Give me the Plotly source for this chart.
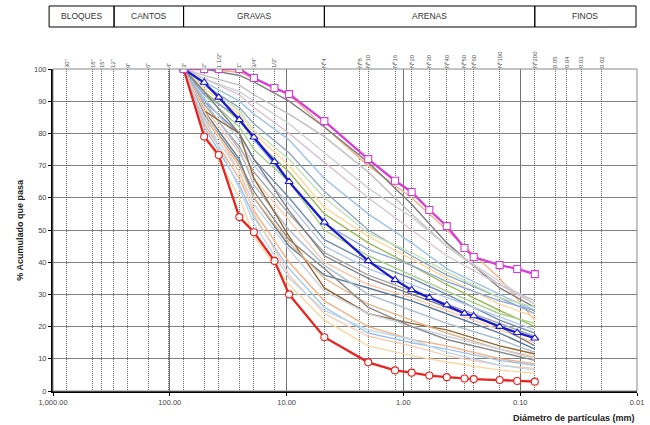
import math
import plotly.graph_objects as go

# ---------------- data ----------------
# sieve sizes (mm) used by the three highlighted curves
main_sizes = [76.2, 50.8, 38.1, 25.4, 19.05, 12.7, 9.525, 4.75, 2.0, 1.18, 0.85, 0.6,
              0.425, 0.3, 0.25, 0.15, 0.106, 0.075]
lower_limit = [100, 79.0, 73.3, 54.0, 49.3, 40.4, 30.0, 16.7, 8.9, 6.4, 5.7, 4.8,
               4.3, 3.9, 3.7, 3.4, 3.1, 2.9]
average_curve = [100, 95.8, 91.2, 84.2, 78.8, 71.2, 65.0, 52.4, 40.4, 34.5, 31.4, 29.0,
                 26.7, 24.1, 23.3, 20.0, 18.1, 16.4]
upper_limit = [100, 100, 100, 100, 97.2, 94.1, 92.2, 83.8, 72.0, 65.3, 61.8, 56.2,
               51.2, 44.4, 41.6, 39.1, 37.9, 36.3]

# sieve sizes (mm) for the individual sample curves
sample_sizes = [76.2, 50.8, 25.4, 19.05, 9.525, 4.75, 2.0, 0.85, 0.425, 0.15, 0.075]
sample_values = [
    [100, 100, 99, 97, 92, 82, 70, 60, 50, 35, 22],
    [100, 100, 98, 96, 90, 82, 71, 58, 46, 32, 26],
    [100, 98, 95, 92, 86, 79, 68, 55, 45, 33, 28],
    [100, 97, 92, 88, 80, 71, 60, 50, 42, 33, 27],
    [100, 96, 90, 86, 78, 66, 55, 46, 38, 30, 25],
    [100, 95, 88, 83, 74, 62, 50, 42, 36, 29, 24],
    [100, 94, 86, 80, 70, 57, 48, 41, 35, 27, 23],
    [100, 93, 84, 78, 68, 55, 46, 39, 33, 25, 20],
    [100, 92, 82, 75, 65, 50, 42, 36, 31, 24, 21],
    [100, 90, 80, 72, 60, 47, 40, 35, 30, 22, 18],
    [100, 91, 78, 70, 58, 45, 38, 33, 29, 23, 19],
    [100, 89, 76, 68, 55, 43, 36, 31, 27, 21, 17],
    [100, 88, 74, 66, 53, 40, 33, 29, 25, 19, 15],
    [100, 87, 72, 60, 45, 36, 32, 28, 24, 18, 13],
    [100, 90, 75, 64, 50, 39, 30, 25, 21, 16, 12],
    [100, 87, 80, 66, 48, 32, 24, 21, 19, 14, 11.5],
    [100, 85, 70, 60, 46, 35, 27, 22, 18, 13, 10.5],
    [100, 84, 68, 58, 44, 31, 24, 20, 17, 13, 10],
    [100, 86, 71, 62, 47, 38, 26, 20, 16, 12, 9.5],
    [100, 83, 66, 56, 40, 28, 20, 16, 14, 10, 8.5],
    [100, 82, 64, 54, 38, 26, 18, 15, 13, 9.5, 8],
    [100, 87, 68, 55, 36, 24, 17, 14, 11, 8, 7],
    [100, 85, 63, 52, 35, 25, 19, 16, 12, 8, 6.5],
    [100, 80, 60, 48, 33, 22, 14, 11, 9, 6.5, 5.5],
    [100, 92, 85, 78, 65, 52, 44, 39, 34, 28, 25],
    [100, 93, 80, 72, 56, 42, 35, 30, 26, 20, 14],
    [100, 95, 87, 81, 72, 60, 49, 43, 37, 29, 26],
    [100, 97, 93, 90, 83, 74, 63, 54, 45, 34, 27],
]
sample_colors = [
    "#F4B183", "#7F7F7F", "#BFBFBF", "#D9C3D0", "#9DC3E6", "#8EA9C1", "#FFD699",
    "#9BBB59", "#A9D08E", "#6F8FAF", "#B4C7E7", "#A6A6A6", "#F8CBAD", "#5B7B9A",
    "#A9BCD0", "#996633", "#E6B88A", "#C5D3E2", "#8C8C8C", "#F4B183", "#9DC3E6",
    "#F8CBAD", "#BDD7EE", "#FAD7A0", "#8FAADC", "#808080", "#C5E0B4", "#D0D0D0",
]

# top sieve labels
sieve_sizes = [762, 457.2, 381, 304.8, 228.6, 152.4, 101.6, 76.2, 50.8, 38.1, 25.4, 19.05,
               12.7, 4.75, 2.36, 2.0, 1.18, 0.85, 0.6, 0.425, 0.3, 0.25, 0.15, 0.075,
               0.05, 0.04, 0.03, 0.02]
sieve_labels = ['30"', '18"', '15"', '12"', '9"', '6"', '4"', '3"', '2"', '1 1/2"', '1"', '3/4"',
                '1/2"', 'Nº4', 'Nº8', 'Nº10', 'Nº16', 'Nº20', 'Nº30', 'Nº40', 'Nº50', 'Nº60',
                'Nº100', 'Nº200', '0.05', '0.04', '0.03', '0.02']

decade_vals = [1000, 100, 10, 1, 0.1, 0.01]
decade_labels = ["1,000.00", "100.00", "10.00", "1.00", "0.10", "0.01"]
y_ticks = list(range(0, 101, 10))

# soil classification header
class_names = ["BLOQUES", "CANTOS", "GRAVAS", "ARENAS", "FINOS"]
class_bounds = [1080, 300, 76.2, 4.75, 0.075, 0.0102]

FONT = "Arial, Liberation Sans, sans-serif"
XMAX, XMIN = 1000.0, 0.01


def to_paper(d):
    return (math.log10(XMAX) - math.log10(d)) / (math.log10(XMAX) - math.log10(XMIN))


fig = go.Figure()

for vals, col in zip(sample_values, sample_colors):
    fig.add_trace(go.Scatter(x=sample_sizes, y=vals, mode="lines",
                             line=dict(color=col, width=1.4), hoverinfo="skip"))

fig.add_trace(go.Scatter(x=main_sizes, y=lower_limit, mode="lines+markers",
                         line=dict(color="#E8221E", width=2.3),
                         marker=dict(symbol="circle", size=7, color="white",
                                     line=dict(color="#E8221E", width=1.1))))
fig.add_trace(go.Scatter(x=main_sizes, y=average_curve, mode="lines+markers",
                         line=dict(color="#1A1ACF", width=2.3),
                         marker=dict(symbol="triangle-up", size=7, color="white",
                                     line=dict(color="#1A1ACF", width=1.1))))
fig.add_trace(go.Scatter(x=main_sizes, y=upper_limit, mode="lines+markers",
                         line=dict(color="#D63CD6", width=2.3),
                         marker=dict(symbol="square", size=7, color="white",
                                     line=dict(color="#D63CD6", width=1.1))))

# dummy trace on top axis so it renders
fig.add_trace(go.Scatter(x=[1], y=[None], xaxis="x2", showlegend=False, hoverinfo="skip"))

xr = [math.log10(XMAX), math.log10(XMIN)]
fig.update_layout(
    width=650, height=425,
    margin=dict(l=53, r=13, t=69, b=34),
    paper_bgcolor="white", plot_bgcolor="white",
    showlegend=False,
    font=dict(family=FONT, color="#333"),
    xaxis=dict(type="log", range=xr, tickvals=decade_vals, ticktext=decade_labels,
               showgrid=True, gridcolor="#707070", gridwidth=1,
               showline=True, linecolor="black", linewidth=2,
               ticks="outside", ticklen=3, tickcolor="black", automargin=False,
               tickfont=dict(size=7.5, color="#444"), zeroline=False),
    xaxis2=dict(type="log", range=xr, overlaying="x", side="top",
                tickvals=sieve_sizes, ticktext=sieve_labels, tickangle=-90,
                tickfont=dict(size=6, color="#555"), automargin=False,
                showgrid=True, gridcolor="#6a6a6a", gridwidth=1, griddash="1px,1px",
                showline=False, ticks="", zeroline=False),
    yaxis=dict(range=[0, 100], tickvals=y_ticks, showgrid=True,
               gridcolor="#808080", gridwidth=1, automargin=False,
               showline=True, linecolor="black", linewidth=2,
               ticks="outside", ticklen=3, tickcolor="black",
               tickfont=dict(size=7.5, color="#444"), zeroline=False),
)

# frame on top/right
fig.add_shape(type="rect", xref="paper", yref="paper", x0=0, x1=1, y0=0, y1=1,
              line=dict(color="#888", width=1), layer="above")

# header classification table
y0h, y1h = 1.1304, 1.1957
for i, name in enumerate(class_names):
    a = to_paper(class_bounds[i])
    b = to_paper(class_bounds[i + 1])
    fig.add_shape(type="rect", xref="paper", yref="paper", x0=a, x1=b, y0=y0h, y1=y1h,
                  line=dict(color="black", width=1))
    fig.add_annotation(xref="paper", yref="paper", x=(a + b) / 2, y=(y0h + y1h) / 2,
                       xanchor="center", yanchor="middle",
                       text=name, showarrow=False,
                       font=dict(size=8.5, color="#333", family=FONT))

fig.add_annotation(xref="paper", yref="paper", x=1.0, y=-0.085, xanchor="right",
                   yanchor="middle", showarrow=False,
                   text="<b>Diámetro de partículas (mm)</b>",
                   font=dict(size=9, color="#222", family=FONT))
fig.add_annotation(xref="paper", yref="paper", x=-0.057, y=0.5, textangle=-90,
                   xanchor="center", yanchor="middle", showarrow=False,
                   text="<b>% Acumulado que pasa</b>",
                   font=dict(size=9, color="#222", family=FONT))

fig.write_html("out.html", config={"displayModeBar": False},
               post_script="document.body.style.margin='0px';document.body.style.padding='0px';")
